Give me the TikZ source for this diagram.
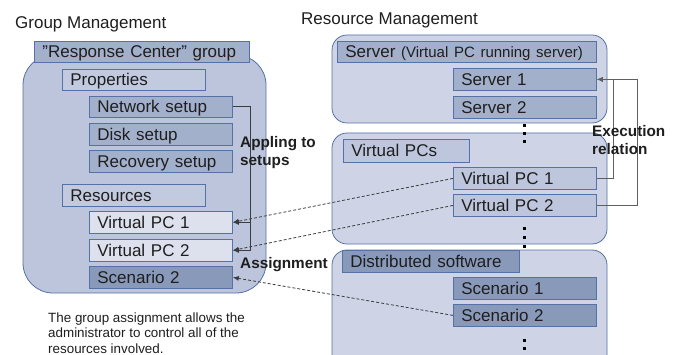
\documentclass[tikz,border=0pt]{standalone}
\usepackage{fontspec}
\setmainfont{Liberation Sans}
\usetikzlibrary{arrows.meta}
\definecolor{contL}{RGB}{188,197,219}
\definecolor{contR}{RGB}{206,212,230}
\definecolor{bordc}{RGB}{84,114,165}
\definecolor{cA}{RGB}{221,225,237}
\definecolor{cB}{RGB}{194,202,223}
\definecolor{cC}{RGB}{163,176,203}
\definecolor{cD}{RGB}{137,153,186}
\definecolor{cE}{RGB}{189,198,220}
\definecolor{txt}{RGB}{30,30,30}
\definecolor{linec}{RGB}{60,60,60}
\definecolor{execc}{RGB}{95,95,95}
\begin{document}
\begin{tikzpicture}[x=1pt,y=-1pt,
  boxfont/.style={font=\fontsize{17}{20}\selectfont},
  box/.style={draw=bordc, line width=0.8pt, inner xsep=8pt, inner ysep=0pt,
    minimum height=22pt, text height=14pt, text depth=2pt, anchor=north west,
    align=left, boxfont, text=txt},
  wstd/.style={text width=127pt},
  cont/.style={draw=bordc, line width=0.8pt},
  lbl/.style={font=\fontsize{15.3}{18}\selectfont\bfseries, text=txt, align=left, inner sep=0pt},
  title/.style={font=\fontsize{17}{20}\selectfont, text=txt, inner sep=0pt, anchor=base west},
  conn/.style={draw=linec, line width=0.9pt, -{Latex[length=6pt,width=5pt]}},
  dconn/.style={draw=linec, line width=0.8pt, dash pattern=on 3pt off 2pt, -{Latex[length=6pt,width=5pt]}},
  econn/.style={draw=execc, line width=0.9pt, -{Latex[length=6pt,width=5pt]}},
  dotm/.style={fill=black}
]
\useasboundingbox (0,0) rectangle (679,355);
\clip (0,0) rectangle (679,355);

% titles
\node[title] (tGM) at (15,29) {Group Management};
\node[title] (tRM) at (301,25) {Resource Management};

% containers
\draw[cont, fill=contL, rounded corners=30pt] (23,55) rectangle (266,293);
\draw[cont, fill=contR, rounded corners=15pt] (332,35) rectangle (607,123);
\draw[cont, fill=contR, rounded corners=15pt] (332,133) rectangle (607,244);
\draw[cont, fill=contR, rounded corners=15pt] (332,250) rectangle (607,380);

% left boxes
\node[box, fill=cC, text width=199pt, minimum height=21pt] (rc) at (34,41) {\symbol{34}Response Center” group};
\node[box, fill=cB, wstd, minimum height=21pt] (prop) at (62,69) {Properties};
\node[box, fill=cC, wstd, minimum height=21pt] (net) at (89,96) {Network setup};
\node[box, fill=cC, wstd] (disk) at (89,123) {Disk setup};
\node[box, fill=cC, wstd] (rec) at (89,150) {Recovery setup};
\node[box, fill=cB, wstd] (res) at (62,184) {Resources};
\node[box, fill=cA, wstd] (vpcLa) at (89,211) {Virtual PC 1};
\node[box, fill=cA, wstd] (vpcLb) at (89,239) {Virtual PC 2};
\node[box, fill=cD, wstd] (scnL) at (89,266) {Scenario 2};

% right boxes
\node[box, fill=cC, text width=243pt, minimum height=21pt] (srvH) at (337,41) {\mbox{Server {\fontsize{15}{18}\selectfont(Virtual PC running server)}}};
\node[box, fill=cC, wstd] (srvA) at (453,68) {Server 1};
\node[box, fill=cC, wstd] (srvB) at (453,96) {Server 2};
\node[box, fill=cE, text width=110pt, minimum height=23pt] (vpcH) at (343,139) {Virtual PCs};
\node[box, fill=cE, wstd] (vpcRa) at (453,167) {Virtual PC 1};
\node[box, fill=cE, wstd] (vpcRb) at (453,194) {Virtual PC 2};
\node[box, fill=cD, text width=161pt] (dsH) at (342,250) {Distributed software};
\node[box, fill=cD, wstd] (scnA) at (453,277) {Scenario 1};
\node[box, fill=cD, wstd] (scnRb) at (453,304) {Scenario 2};

% dots
\foreach \yy in {126,134,142, 228,237,246, 340,348,356}
  \fill[dotm] (522.5,\yy-1.5) rectangle ++(3,3);

% applying connector
\draw[conn] (net.east) -- ++(18,0) coordinate (nA) |- (vpcLb.east);
\draw[conn] (nA |- vpcLa.east) -- (vpcLa.east);

% assignment (dashed)
\draw[dconn] (vpcRa.west) -- (vpcLa.east);
\draw[dconn] (vpcRb.west) -- (vpcLb.east);
\draw[dconn] (scnRb.west) -- (scnL.east);

% execution relation
\draw[econn] (vpcRa.east) -- ++(17,0) |- (srvA.east);
\draw[econn] (vpcRb.east) -- ++(41,0) |- (srvA.east);

% labels (base = last line)
\node[lbl, anchor=base west] (lApp) at (240,166) {Appling to\\setups};
\node[lbl, anchor=base west] (lExe) at (592,155) {Execution\\relation};
\node[lbl, anchor=base west] (lAss) at (240,268) {Assignment};

% note
\node[anchor=base west, inner sep=0pt, align=left, text=txt,
  font=\fontsize{13.4}{15.5}\selectfont] (note) at (48,353)
  {The group assignment allows the\\administrator to control all of the\\resources involved.};
\end{tikzpicture}
\end{document}
